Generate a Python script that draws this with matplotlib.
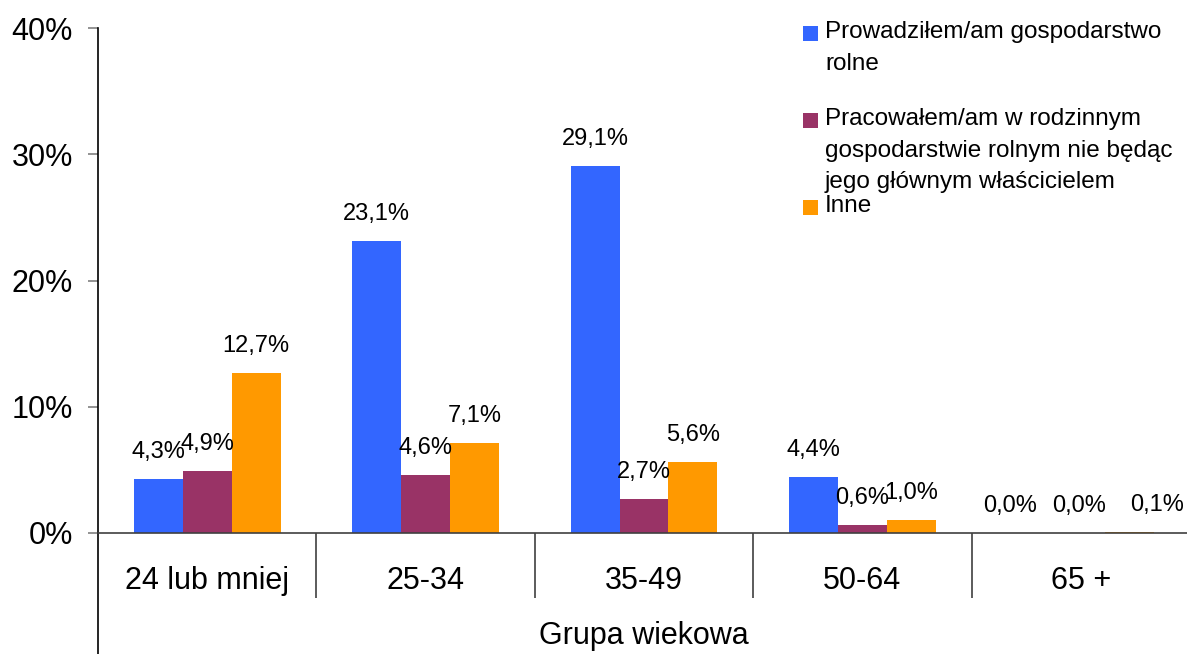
import numpy as np
import matplotlib
matplotlib.use('Agg')
import matplotlib.pyplot as plt
from matplotlib.patches import Rectangle

plt.rcParams['font.family'] = ['Liberation Sans', 'DejaVu Sans']

# data
categories = ['24 lub mniej', '25-34', '35-49', '50-64', '65 +']
prowadzilem = [4.3, 23.1, 29.1, 4.4, 0.0]
pracowalem = [4.9, 4.6, 2.7, 0.6, 0.0]
inne = [12.7, 7.1, 5.6, 1.0, 0.1]
series_names = ['Prowadziłem/am gospodarstwo\nrolne',
                'Pracowałem/am w rodzinnym\ngospodarstwie rolnym nie będąc\njego głównym właścicielem',
                'Inne']
colors = ['#3366FF', '#993366', '#FF9900']
y_ticks = [0, 10, 20, 30, 40]

W, H = 1187, 654
fig = plt.figure(figsize=(W / 100, H / 100), dpi=100)
ax = fig.add_axes([98 / W, 121 / H, 1092 / W, 505 / H])

x = np.arange(len(categories))
bw = 0.224
series = [prowadzilem, pracowalem, inne]
# Excel spreads the tiny labels of the last group apart (pixel shifts)
last_shift = [-22, -2, 27]
for i, (vals, col) in enumerate(zip(series, colors)):
    pos = x + (i - 1) * bw
    ax.bar(pos, vals, width=bw, color=col, linewidth=0)
    for j, (p, v) in enumerate(zip(pos, vals)):
        dx = last_shift[i] if j == len(categories) - 1 else 0
        ax.annotate(f'{v:.1f}%'.replace('.', ','), (p, v), xytext=(dx, 27),
                    textcoords='offset pixels', ha='center', va='center',
                    fontsize=17, color='black')

ax.set_xlim(-0.5, len(categories) - 0.5)
ax.set_ylim(0, 40)
ax.set_yticks(y_ticks)
ax.set_yticklabels([f'{t}%' for t in y_ticks], fontsize=22)
ax.tick_params(axis='y', direction='out', length=7, width=1.2, color='#808080', pad=11)

ax.set_xticks(x)
ax.set_xticklabels(categories, fontsize=22)
ax.tick_params(axis='x', which='major', length=0, pad=24)
ax.set_xticks(np.arange(0.5, len(categories) - 0.5, 1), minor=True)
ax.tick_params(axis='x', which='minor', direction='out', length=47, width=1.2, color='#404040')
ax.set_xlabel('Grupa wiekowa', fontsize=22, labelpad=13)

for s in ['top', 'right']:
    ax.spines[s].set_visible(False)
ax.spines['bottom'].set_color('#404040')
ax.spines['bottom'].set_linewidth(1.2)
ax.spines['left'].set_linewidth(1.2)
ax.spines['left'].set_bounds(-10, 40)

# legend drawn like Excel: square aligned with first line
first_baseline = [38, 125, 212]
step = 31.5
for name, col, b in zip(series_names, colors, first_baseline):
    fig.patches.append(Rectangle((803 / W, 1 - (b + 3) / H), 15 / W, 15 / H,
                                 transform=fig.transFigure, color=col, linewidth=0))
    for k, line in enumerate(name.split('\n')):
        fig.text(825 / W, 1 - (b + k * step) / H, line, fontsize=17.5,
                 ha='left', va='baseline')

fig.savefig('out.png', dpi=100)
